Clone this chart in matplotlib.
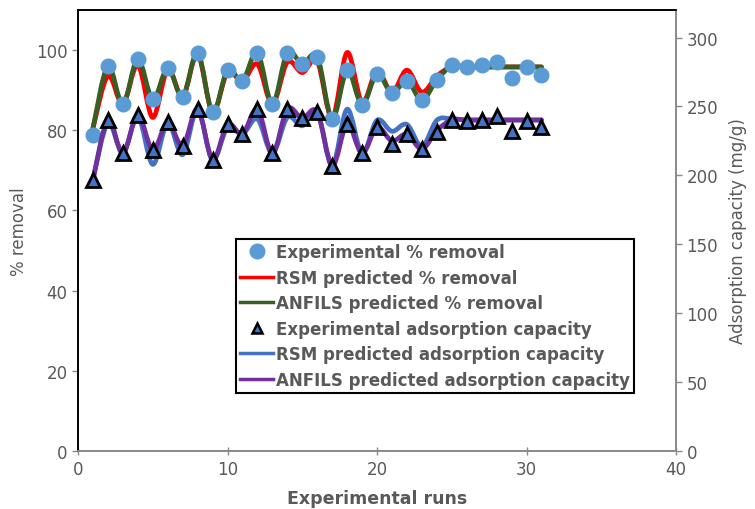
import numpy as np
import matplotlib.pyplot as plt
from matplotlib.path import Path
from matplotlib.patches import PathPatch
from matplotlib.lines import Line2D

# experimental runs
runs = np.arange(1, 32)

# % removal (left axis)
exp_removal = [78.8, 96.1, 86.5, 97.8, 87.7, 95.5, 88.4, 99.4, 84.5, 95.0,
               92.4, 99.4, 86.5, 99.4, 96.5, 98.4, 82.8, 95.0, 86.4, 94.0,
               89.3, 92.4, 87.5, 92.6, 96.3, 95.8, 96.3, 97.1, 93.0, 95.8, 93.9]
rsm_removal = [80.5, 93.6, 86.5, 96.3, 83.2, 95.2, 88.4, 99.0, 84.5, 94.5,
               92.2, 96.5, 86.5, 97.0, 94.4, 97.2, 83.0, 99.4, 87.0, 94.8,
               89.5, 95.0, 89.5, 93.5, 95.9, 95.8, 95.8, 95.8, 95.8, 95.8, 95.8]
anfis_removal = [80.5, 96.0, 86.5, 97.8, 87.7, 95.5, 88.4, 99.4, 84.5, 95.0,
                 92.4, 99.4, 86.5, 99.4, 96.5, 98.4, 82.8, 95.0, 86.4, 94.0,
                 89.3, 92.4, 87.5, 92.6, 96.0, 95.8, 95.8, 95.8, 95.8, 95.8, 95.8]

# adsorption capacity, mg/g (right axis)
exp_capacity = [196.9, 240.2, 216.0, 243.8, 218.4, 238.5, 221.5, 248.2, 211.4, 237.0,
                230.0, 248.2, 216.0, 248.2, 241.4, 246.2, 207.0, 237.3, 216.0, 234.9,
                223.1, 230.0, 219.1, 231.7, 240.4, 239.7, 240.4, 242.9, 232.4, 239.7, 234.9]
rsm_capacity = [197.0, 238.0, 216.0, 243.0, 208.0, 238.0, 215.0, 248.0, 211.0, 235.0,
                230.0, 241.0, 216.0, 242.0, 236.0, 246.0, 207.0, 248.0, 216.0, 240.0,
                232.0, 237.0, 221.0, 240.0, 241.0, 240.2, 240.2, 240.2, 240.2, 240.2, 240.2]
anfis_capacity = [196.9, 240.2, 216.0, 243.8, 218.4, 238.5, 221.5, 248.2, 211.4, 237.0,
                  230.0, 248.2, 216.0, 248.2, 241.4, 246.2, 207.0, 237.3, 216.0, 234.9,
                  225.0, 230.0, 219.1, 232.5, 240.2, 240.2, 240.2, 240.2, 240.2, 240.2, 240.2]

GREY = "#595959"
AXGREY = "#898989"


def smooth_line(ax, x, y, color, lw, zorder):
    """Excel-style smoothed line: cubic Bezier segments through every point."""
    pts = np.column_stack([x, y]).astype(float)
    n = len(pts)
    verts = [pts[0]]
    codes = [Path.MOVETO]
    for i in range(n - 1):
        p0 = pts[max(i - 1, 0)]
        p1 = pts[i]
        p2 = pts[i + 1]
        p3 = pts[min(i + 2, n - 1)]
        c1 = p1 + (p2 - p0) / 6.0
        c2 = p2 - (p3 - p1) / 6.0
        verts += [c1, c2, p2]
        codes += [Path.CURVE4] * 3
    patch = PathPatch(Path(verts, codes), facecolor="none", edgecolor=color,
                      lw=lw, zorder=zorder, capstyle="round", joinstyle="round")
    ax.add_patch(patch)


fig = plt.figure(figsize=(7.55, 5.10), dpi=100)
ax = fig.add_axes([0.1033, 0.1137, 0.7921, 0.8647])
ax2 = ax.twinx()

lw = 3.4
smooth_line(ax, runs, rsm_removal, "#FF0000", lw, 2)
smooth_line(ax, runs, anfis_removal, "#3B5E23", lw, 3)
ax.plot(runs, exp_removal, "o", ms=10.5, color="#5B9BD5", mec="#5B9BD5", zorder=4)

smooth_line(ax2, runs, rsm_capacity, "#4472C4", lw, 2)
smooth_line(ax2, runs, anfis_capacity, "#7030A0", lw, 3)
ax2.plot(runs, exp_capacity, "^", ms=9.5, color="#4472C4", mec="black", mew=2, zorder=4)

ax.set_xlim(0, 40)
ax.set_ylim(0, 110)
ax2.set_ylim(0, 320)
ax.set_xticks([0, 10, 20, 30, 40])
ax.set_yticks([0, 20, 40, 60, 80, 100])
ax2.set_yticks([0, 50, 100, 150, 200, 250, 300])

for a in (ax, ax2):
    a.tick_params(colors=AXGREY, labelcolor=GREY, labelsize=12, length=4, width=1)
    for s in a.spines.values():
        s.set_linewidth(1.2)
    a.spines["top"].set_color("black")
    a.spines["left"].set_color("black")
    a.spines["bottom"].set_color(AXGREY)
    a.spines["right"].set_color(AXGREY)
ax.tick_params(axis="x", direction="inout", length=6)

ax.set_xlabel("Experimental runs", color=GREY, fontsize=12.5, fontweight="bold", labelpad=8)
ax.set_ylabel("% removal", color=GREY, fontsize=12, labelpad=6)
ax2.set_ylabel("Adsorption capacity (mg/g)", color=GREY, fontsize=12, labelpad=8)

handles = [
    Line2D([], [], ls="none", marker="o", ms=10.5, color="#5B9BD5"),
    Line2D([], [], color="#FF0000", lw=2.5),
    Line2D([], [], color="#3B5E23", lw=2.5),
    Line2D([], [], ls="none", marker="^", ms=7, color="#4472C4", mec="black", mew=1.8),
    Line2D([], [], color="#4472C4", lw=2.5),
    Line2D([], [], color="#7030A0", lw=2.5),
]
labels = [
    "Experimental % removal",
    "RSM predicted % removal",
    "ANFILS predicted % removal",
    "Experimental adsorption capacity",
    "RSM predicted adsorption capacity",
    "ANFILS predicted adsorption capacity",
]
leg = ax2.legend(handles, labels, loc="upper left", bbox_to_anchor=(0.264, 0.481),
                 prop={"weight": "bold", "size": 12}, handlelength=2.0,
                 handletextpad=0.15, labelspacing=0.45, borderpad=0.25,
                 borderaxespad=0, fancybox=False, framealpha=1, edgecolor="black")
leg.get_frame().set_linewidth(1.5)
for t in leg.get_texts():
    t.set_color(GREY)
leg.set_zorder(10)

fig.savefig("out.png", dpi=100)
